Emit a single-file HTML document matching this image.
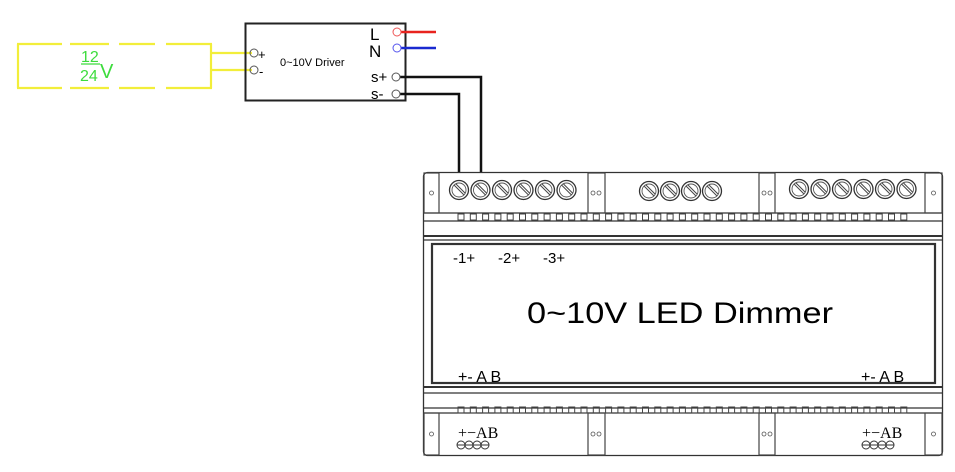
<!DOCTYPE html>
<html><head><meta charset="utf-8"><style>
html,body{margin:0;padding:0;background:#fff;}
svg{display:block;font-family:"Liberation Sans",sans-serif;}
</style></head><body>
<svg id="s" width="955" height="472" viewBox="0 0 955 472" xmlns="http://www.w3.org/2000/svg">
<rect width="955" height="472" fill="#fff"/>
<!-- yellow power -->
<g stroke="#f2ee3a" stroke-width="2.2" fill="none">
<line x1="18" y1="44" x2="18" y2="88"/>
<line x1="211" y1="44" x2="211" y2="88"/>
<line x1="17" y1="44" x2="62" y2="44"/><line x1="70" y1="44" x2="109" y2="44"/><line x1="119" y1="44" x2="155" y2="44"/><line x1="166" y1="44" x2="212" y2="44"/>
<line x1="17" y1="88" x2="62" y2="88"/><line x1="70" y1="88" x2="109" y2="88"/><line x1="119" y1="88" x2="155" y2="88"/><line x1="166" y1="88" x2="212" y2="88"/>
<line x1="211" y1="53" x2="252" y2="53"/>
<line x1="211" y1="70" x2="252" y2="70"/>
</g>
<text x="81" y="62" font-size="16" fill="#3ddc3d">12</text>
<line x1="81" y1="64" x2="100" y2="64" stroke="#3ddc3d" stroke-width="1.3"/>
<text x="80" y="81" font-size="16" fill="#3ddc3d">24</text>
<text x="100" y="78" font-size="20" fill="#3ddc3d">V</text>
<!-- driver -->
<rect x="245.5" y="23.5" width="160" height="77" fill="none" stroke="#222" stroke-width="2"/>
<circle cx="254" cy="53" r="4" fill="none" stroke="#555"/>
<circle cx="254" cy="70" r="4" fill="none" stroke="#555"/>
<text x="258" y="59" font-size="13">+</text>
<text x="259" y="76" font-size="13">-</text>
<text x="280" y="66" font-size="11">0~10V Driver</text>
<text x="370" y="40" font-size="17">L</text>
<text x="369" y="57" font-size="17">N</text>
<text x="371" y="82" font-size="15">s+</text>
<text x="371" y="99" font-size="15">s-</text>
<line x1="397" y1="32" x2="436" y2="32" stroke="#e8231e" stroke-width="2.5"/>
<line x1="397" y1="48" x2="436" y2="48" stroke="#1a2ad0" stroke-width="2.5"/>
<circle cx="397" cy="32" r="4" fill="#fff" stroke="#e55"/>
<circle cx="397" cy="48" r="4" fill="#fff" stroke="#55e"/>
<polyline points="397,77 481,77 481,172" fill="none" stroke="#111" stroke-width="2.5"/>
<polyline points="397,94 459,94 459,172" fill="none" stroke="#111" stroke-width="2.5"/>
<circle cx="396" cy="77" r="4" fill="#fff" stroke="#555"/>
<circle cx="396" cy="94" r="4" fill="#fff" stroke="#555"/>
<!-- dimmer -->
<g fill="none" stroke="#333" stroke-width="1.3">
<rect x="423.5" y="172.5" width="519" height="283" rx="4"/>
<line x1="423" y1="213" x2="943" y2="213"/>
<line x1="423" y1="221" x2="943" y2="221"/>
<line x1="423" y1="236" x2="943" y2="236" stroke-width="2"/>
<line x1="423" y1="240" x2="943" y2="240"/>
<rect x="432" y="244" width="503" height="139" stroke-width="2.2"/>
<line x1="423" y1="387" x2="943" y2="387" stroke-width="2"/>
<line x1="423" y1="393" x2="943" y2="393"/>
<line x1="423" y1="408" x2="943" y2="408"/>
<line x1="423" y1="413" x2="943" y2="413"/>
</g>
<text x="453" y="263" font-size="15">-1+</text>
<text x="498" y="263" font-size="15">-2+</text>
<text x="543" y="263" font-size="15">-3+</text>
<text x="527" y="323" font-size="30" textLength="306" lengthAdjust="spacingAndGlyphs">0~10V LED Dimmer</text>
<text x="458" y="382" font-size="16">+- A B</text>
<text x="861" y="382" font-size="16">+- A B</text>
<text x="458" y="438" font-size="16" font-family="Liberation Serif">+−AB</text>
<text x="862" y="438" font-size="16" font-family="Liberation Serif">+−AB</text>
</svg>
<script>
var s=document.getElementById('s'),NS='http://www.w3.org/2000/svg';
function el(t,a){var e=document.createElementNS(NS,t);for(var k in a)e.setAttribute(k,a[k]);s.appendChild(e);return e;}
var bands=[[424,439],[588,605],[759,775],[925,942]];
bands.forEach(function(b,i){
 [[173,213],[413,455]].forEach(function(y){
  el('rect',{x:b[0],y:y[0],width:b[1]-b[0],height:y[1]-y[0],fill:'none',stroke:'#444','stroke-width':1.2});
  var cy=(y[0]+y[1])/2;
  if(i==0||i==3)el('circle',{cx:(b[0]+b[1])/2,cy:cy,r:2,fill:'none',stroke:'#555','stroke-width':0.8});
  else{el('circle',{cx:b[0]+5,cy:cy,r:2,fill:'none',stroke:'#555','stroke-width':0.8});el('circle',{cx:b[0]+11,cy:cy,r:2,fill:'none',stroke:'#555','stroke-width':0.8});}
 });
});
function screw(x,y){el('circle',{cx:x,cy:y,r:9.5,fill:'#fff',stroke:'#333','stroke-width':1.3});
 el('circle',{cx:x,cy:y,r:7,fill:'none',stroke:'#555','stroke-width':0.9});
 el('line',{x1:x-5,y1:y-5,x2:x+5,y2:y+5,stroke:'#444','stroke-width':1});
 el('line',{x1:x-3,y1:y-6,x2:x+6,y2:y+3,stroke:'#444','stroke-width':1});}
for(var i=0;i<6;i++)screw(459+i*21.5,190);
for(i=0;i<4;i++)screw(649+i*21,191);
for(i=0;i<6;i++)screw(799+i*21.5,189);
for(i=0;i<37;i++){var x=458+i*12.3;
 el('rect',{x:x,y:214,width:6,height:6,fill:'none',stroke:'#444','stroke-width':1});
 el('rect',{x:x,y:407,width:6,height:6,fill:'none',stroke:'#444','stroke-width':1});}
[[461,445],[866,445]].forEach(function(p){for(var j=0;j<4;j++){
 el('circle',{cx:p[0]+j*8,cy:p[1],r:4,fill:'none',stroke:'#333','stroke-width':1});
 el('line',{x1:p[0]+j*8-4,y1:p[1],x2:p[0]+j*8+4,y2:p[1],stroke:'#333','stroke-width':1});}});
</script>
</body></html>
